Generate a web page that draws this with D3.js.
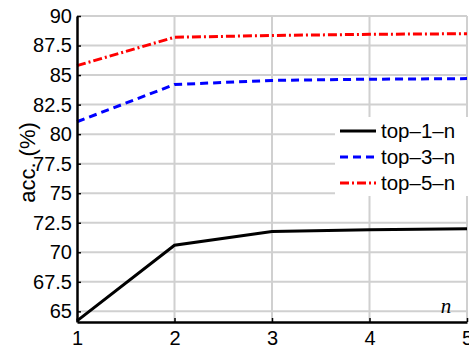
<!DOCTYPE html>
<html lang="en">
<head>
<meta charset="UTF-8">
<title>acc vs n</title>
<script src="https://d3js.org/d3.v7.min.js"></script>
<style>
  body { margin: 0; background: #fff; }
</style>
</head>
<body>
<svg id="chart"></svg>
<script>
const nValues = [1, 2, 3, 4, 5];
const top1 = [64.2, 70.6, 71.75, 71.9, 72.0];
const top3 = [81.05, 84.2, 84.55, 84.65, 84.7];
const top5 = [85.8, 88.2, 88.35, 88.45, 88.5];
const yTicks = [65, 67.5, 70, 72.5, 75, 77.5, 80, 82.5, 85, 87.5, 90];
const seriesNames = ["top\u20131\u2013n", "top\u20133\u2013n", "top\u20135\u2013n"];

const W = 469, H = 347;
const margin = { top: 16, right: 2, bottom: 25, left: 77 };
const sans = "Liberation Sans, Arial, sans-serif";

const series = [
  { name: seriesNames[0], values: top1, color: "#000", dash: null },
  { name: seriesNames[1], values: top3, color: "#0000ff", dash: "8,5" },
  { name: seriesNames[2], values: top5, color: "#ff0000", dash: "9,3,2,3" }
];

const svg = d3.select("#chart").attr("width", W).attr("height", H);

const x = d3.scaleLinear().domain([1, 5]).range([margin.left, W - margin.right]);
const y = d3.scaleLinear().domain([64.1, 90]).range([H - margin.bottom, margin.top]);

// grid
svg.append("g").selectAll("line").data(yTicks).join("line")
  .attr("x1", margin.left).attr("x2", W - margin.right)
  .attr("y1", d => y(d)).attr("y2", d => y(d))
  .attr("stroke", "#d0d0d0").attr("stroke-width", 2);
svg.append("g").selectAll("line").data(nValues.slice(1)).join("line")
  .attr("x1", d => x(d)).attr("x2", d => x(d))
  .attr("y1", margin.top).attr("y2", H - margin.bottom)
  .attr("stroke", "#d0d0d0").attr("stroke-width", 2);

// lines
const line = d3.line().x((d, i) => x(nValues[i])).y(d => y(d));
svg.append("g").selectAll("path").data(series).join("path")
  .attr("d", d => line(d.values))
  .attr("fill", "none")
  .attr("stroke", d => d.color)
  .attr("stroke-width", 3)
  .attr("stroke-dasharray", d => d.dash);

// axes
const xAxis = svg.append("g")
  .attr("transform", `translate(0,${H - margin.bottom})`)
  .call(d3.axisBottom(x).tickValues(nValues).tickFormat(d3.format("d")).tickSizeInner(-4).tickSizeOuter(0).tickPadding(9));
const yAxis = svg.append("g")
  .attr("transform", `translate(${margin.left},0)`)
  .call(d3.axisLeft(y).tickValues(yTicks).tickFormat(d => d).tickSizeInner(-4).tickSizeOuter(0).tickPadding(5));
[xAxis, yAxis].forEach(a => {
  a.select(".domain").attr("stroke", "#000").attr("stroke-width", 2.5);
  a.selectAll(".tick line").attr("stroke", "#000").attr("stroke-width", 1.5);
  a.selectAll(".tick text").style("font-size", "20px").attr("fill", "#000")
    .style("font-family", sans);
});

// y label
svg.append("text")
  .attr("transform", `translate(35,${y(77.6)}) rotate(-90)`)
  .attr("text-anchor", "middle")
  .style("font-family", sans)
  .style("font-size", "22px")
  .text("acc. (%)");

// n label
svg.append("text")
  .attr("x", x(4.73)).attr("y", H - margin.bottom - 9)
  .style("font-family", "Liberation Serif, serif")
  .style("font-style", "italic")
  .style("font-size", "21px")
  .text("n");

// legend
const lg = svg.append("g").attr("transform", "translate(335,117)");
lg.append("rect").attr("width", 134).attr("height", 79).attr("fill", "#fff");
const item = lg.selectAll("g").data(series).join("g")
  .attr("transform", (d, i) => `translate(0,${14 + i * 26})`);
item.append("line")
  .attr("x1", 5).attr("x2", 41)
  .attr("stroke", d => d.color).attr("stroke-width", 3)
  .attr("stroke-dasharray", d => d.dash);
item.append("text")
  .attr("x", 46).attr("y", 7)
  .style("font-family", sans)
  .style("font-size", "20.5px")
  .text(d => d.name);
</script>
</body>
</html>
